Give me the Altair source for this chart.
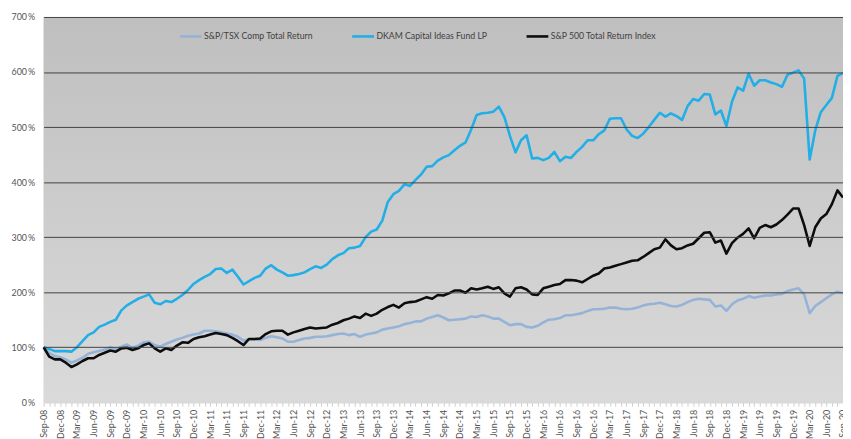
import altair as alt
import pandas as pd

months = [d.strftime("%b-%y") for d in pd.date_range("2008-09-01", "2020-09-01", freq="MS")]

series_names = ["S&P/TSX Comp Total Return", "DKAM Capital Ideas Fund LP", "S&P 500 Total Return Index"]
series_colors = ["#95b3d7", "#22aee6", "#0d0d0d"]

tsx = [100, 90, 84, 82, 78, 72, 76, 81, 88, 91,
       93, 96, 100, 96, 101, 105, 99, 103, 109, 110,
       104, 101, 106, 110, 114, 117, 121, 123, 125, 130,
       130, 129, 127, 125, 123, 119, 112, 114, 114, 113,
       117, 120, 118, 116, 110, 110, 113, 116, 117, 119,
       119, 120, 122, 124, 125, 122, 124, 119, 123, 125,
       127, 132, 134, 136, 138, 142, 144, 147, 147, 152,
       155, 158, 154, 149, 150, 151, 152, 156, 155, 158,
       156, 152, 152, 146, 140, 142, 142, 137, 136, 139,
       145, 150, 151, 153, 158, 158, 160, 162, 166, 169,
       169, 170, 172, 172, 170, 169, 170, 172, 176, 178,
       179, 181, 178, 175, 174, 177, 182, 186, 188, 187,
       186, 174, 176, 166, 178, 185, 188, 193, 190, 192,
       194, 194, 196, 197, 202, 205, 207, 196, 162, 175,
       182, 189, 196, 201, 198]

dkam = [100, 97, 93, 93, 93, 92, 100, 111, 122, 127,
        137, 141, 146, 150, 167, 176, 182, 188, 192, 196,
        181, 178, 184, 182, 188, 195, 204, 215, 222, 228,
        233, 242, 243, 235, 241, 228, 214, 220, 226, 230,
        243, 249, 241, 236, 230, 231, 233, 236, 242, 247,
        244, 250, 260, 267, 271, 280, 281, 284, 300, 310,
        314, 330, 364, 378, 384, 396, 393, 404, 414, 428,
        429, 439, 445, 449, 458, 466, 472, 495, 522, 525,
        526, 528, 537, 518, 484, 454, 476, 485, 443, 444,
        440, 444, 455, 438, 446, 444, 455, 464, 476, 476,
        487, 494, 515, 516, 516, 496, 484, 480, 488, 500,
        513, 526, 519, 525, 520, 513, 538, 551, 548, 560,
        559, 523, 530, 502, 546, 572, 566, 597, 575, 585,
        585, 581, 578, 573, 595, 599, 603, 588, 441, 494,
        527, 540, 553, 593, 598]

sp500 = [100, 83, 78, 78, 72, 64, 69, 75, 80, 80,
         86, 90, 94, 92, 98, 99, 95, 98, 104, 107,
         98, 92, 98, 95, 103, 109, 108, 115, 118, 120,
         123, 126, 124, 122, 117, 111, 104, 115, 115, 116,
         124, 129, 130, 130, 123, 127, 130, 133, 136, 134,
         135, 136, 141, 144, 149, 152, 156, 153, 161, 157,
         161, 168, 173, 177, 172, 180, 182, 183, 187, 191,
         188, 195, 194, 198, 203, 203, 199, 207, 205, 207,
         210, 206, 209, 198, 192, 207, 209, 205, 196, 195,
         207, 210, 213, 215, 222, 222, 221, 218, 224, 230,
         234, 243, 245, 248, 251, 254, 257, 258, 264, 271,
         278, 281, 296, 285, 278, 280, 285, 288, 298, 308,
         309, 290, 294, 270, 289, 299, 306, 316, 298, 317,
         322, 318, 323, 331, 341, 352, 352, 322, 284, 318,
         334, 342, 360, 385, 372]

y_ticks = [0, 100, 200, 300, 400, 500, 600, 700]

rows = []
for name, vals in zip(series_names, [tsx, dkam, sp500]):
    for m, v in zip(months, vals):
        rows.append({"Month": m, "Series": name, "Value": v})
df = pd.DataFrame(rows)

bg_df = pd.DataFrame([{"Month": months[0], "MonthEnd": months[-1],
                       "Value": y_ticks[-1], "Bottom": y_ticks[0]}])

font = "Lato"

x_enc = alt.X("Month:O", sort=months,
              scale=alt.Scale(type="point", padding=0, domain=months),
              axis=alt.Axis(title=None, labelAngle=-90,
                            labelExpr="indexof(['Sep','Dec','Mar','Jun'], slice(datum.label,0,3)) >= 0 ? datum.label : ''",
                            labelFont=font, labelFontSize=9, labelColor="#555555",
                            labelPadding=3, tickColor="#cfcfcf", tickSize=4,
                            domainColor="#d6d6d6", grid=False, labelOverlap=False))

y_axis = alt.Axis(title=None, values=y_ticks,
                  labelExpr="datum.value + '\u2009%'",
                  labelFont=font, labelFontSize=9, labelColor="#555555",
                  labelPadding=9, ticks=False, domain=False,
                  grid=True,
                  gridColor={"condition": {"test": "datum.value === 0", "value": "transparent"},
                             "value": "#424242"},
                  gridWidth=1, zindex=1)

y_enc = alt.Y("Value:Q", scale=alt.Scale(domain=[0, 700], nice=False), axis=y_axis)

background = alt.Chart(bg_df).mark_rect(
    color=alt.LinearGradient(gradient="linear", x1=0, y1=0, x2=0, y2=1,
                             stops=[alt.GradientStop(color="#bfbfbf", offset=0),
                                    alt.GradientStop(color="#dadada", offset=1)])
).encode(
    x=x_enc,
    x2="MonthEnd:O",
    y=y_enc,
    y2="Bottom:Q",
)

lines = alt.Chart(df).mark_line(strokeWidth=2.6, strokeJoin="round").encode(
    x=x_enc,
    y=y_enc,
    color=alt.Color("Series:N",
                    scale=alt.Scale(domain=series_names, range=series_colors),
                    sort=series_names,
                    legend=alt.Legend(title=None, orient="none", direction="horizontal",
                                      legendX=136, legendY=7,
                                      symbolType="stroke", symbolSize=484,
                                      symbolStrokeWidth=2.6, labelFont=font,
                                      labelFontSize=8.8, labelColor="#404040",
                                      labelOffset=1, columnPadding=34)),
)

chart = alt.layer(background, lines).properties(
    width=807, height=389,
    padding={"left": 36, "top": 7, "right": 0, "bottom": 35},
    autosize=alt.AutoSizeParams(type="none"),
).configure_view(stroke=None).configure(background="white")

chart.save("out.html", embed_options={"renderer": "svg", "actions": False})
